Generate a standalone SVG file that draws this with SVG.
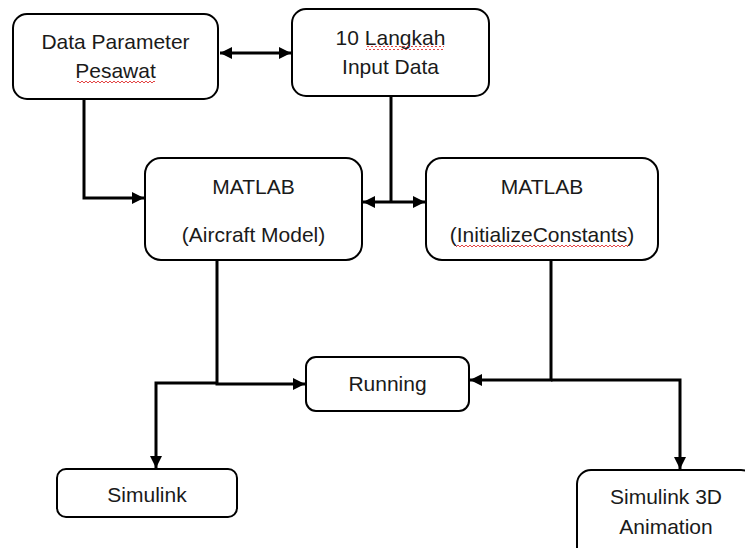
<svg xmlns="http://www.w3.org/2000/svg" width="745" height="548" viewBox="0 0 745 548">
  <style>
    .box { fill: #ffffff; stroke: #000000; stroke-width: 2; }
    .lbl { font-family: "Liberation Sans", Arial, sans-serif; font-size: 21px; fill: #1a1a1a; text-anchor: middle; }
    .con { fill: none; stroke: #000000; stroke-width: 3; }
    .sq { fill: url(#squiggle); }
  </style>
  <defs>
    <marker id="arr" viewBox="0 0 12 12" refX="12" refY="6" markerWidth="12" markerHeight="12" markerUnits="userSpaceOnUse" orient="auto-start-reverse">
      <path d="M0,0 L12,6 L0,12 Z" fill="#000000"/>
    </marker>
    <pattern id="squiggle" patternUnits="userSpaceOnUse" width="4" height="4">
      <path d="M0,3 L2,1 L4,3" fill="none" stroke="#e03030" stroke-width="0.9"/>
    </pattern>
  </defs>

  <rect width="745" height="548" fill="#ffffff"/>

  <g id="connectors">
    <line class="con" x1="220" y1="53" x2="291" y2="53" marker-start="url(#arr)" marker-end="url(#arr)"/>
    <path class="con" d="M84,99 V198 H144" marker-end="url(#arr)"/>
    <path class="con" d="M391,96 V202"/>
    <line class="con" x1="363" y1="202" x2="425" y2="202" marker-start="url(#arr)" marker-end="url(#arr)"/>
    <path class="con" d="M217,260 V384 H305" marker-end="url(#arr)"/>
    <path class="con" d="M217,383 H156 V468" marker-end="url(#arr)"/>
    <path class="con" d="M551,260 V380 H470" marker-end="url(#arr)"/>
    <path class="con" d="M551,380 H680 V469" marker-end="url(#arr)"/>
  </g>

  <g id="data-parameter">
    <rect class="box" x="13" y="14" width="205" height="85" rx="14"/>
    <text class="lbl" x="115.5" y="49">Data Parameter</text>
    <text class="lbl" x="115.5" y="78">Pesawat</text>
    <rect class="sq" x="77" y="80" width="78" height="4"/>
  </g>

  <g id="input-data">
    <rect class="box" x="292" y="9" width="197" height="87" rx="14"/>
    <text class="lbl" x="390.5" y="45">10 Langkah</text>
    <text class="lbl" x="390.5" y="74">Input Data</text>
    <rect class="sq" x="366" y="46" width="78" height="4"/>
  </g>

  <g id="matlab-aircraft">
    <rect class="box" x="145" y="158" width="217" height="102" rx="16"/>
    <text class="lbl" x="253.5" y="194">MATLAB</text>
    <text class="lbl" x="253.5" y="242">(Aircraft Model)</text>
  </g>

  <g id="matlab-init">
    <rect class="box" x="426" y="158" width="232" height="102" rx="16"/>
    <text class="lbl" x="542" y="194">MATLAB</text>
    <text class="lbl" x="542" y="242">(InitializeConstants)</text>
    <rect class="sq" x="456" y="244" width="172" height="4"/>
  </g>

  <g id="running">
    <rect class="box" x="306" y="357" width="163" height="54" rx="10"/>
    <text class="lbl" x="387.5" y="391">Running</text>
  </g>

  <g id="simulink">
    <rect class="box" x="57" y="469" width="180" height="48" rx="9"/>
    <text class="lbl" x="147" y="502">Simulink</text>
  </g>

  <g id="simulink-3d">
    <rect class="box" x="577" y="470" width="178" height="100" rx="14"/>
    <text class="lbl" x="666" y="504">Simulink 3D</text>
    <text class="lbl" x="666" y="534">Animation</text>
  </g>
</svg>
